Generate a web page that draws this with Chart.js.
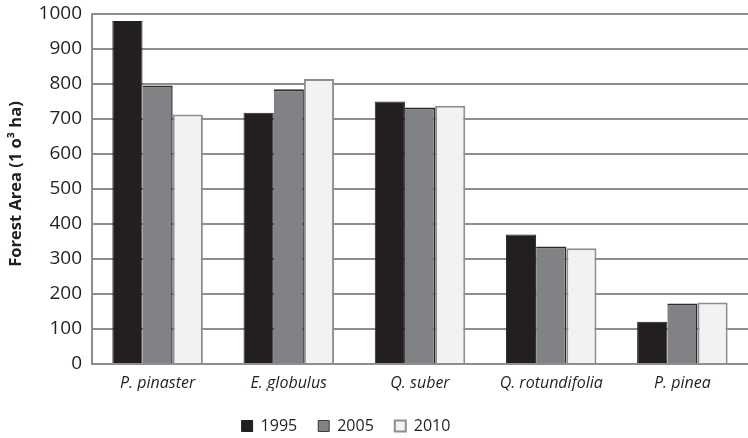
<!DOCTYPE html>
<html>
<head>
<meta charset="utf-8">
<script src="https://cdn.jsdelivr.net/npm/chart.js@4.4.0/dist/chart.umd.min.js"></script>
<style>
  html, body { margin: 0; padding: 0; background: #fff; }
  #wrap { width: 748px; height: 438px; position: relative; }
</style>
</head>
<body>
<div id="wrap"><canvas id="chart"></canvas></div>
<script>
// species on the x axis
const species = ["P. pinaster", "E. globulus", "Q. suber", "Q. rotundifolia", "P. pinea"];
// forest area per year, 10^3 ha
const area1995 = [980, 718, 750, 370, 121];
const area2005 = [796, 785, 733, 336, 173];
const area2010 = [713, 814, 738, 331, 176];
const yTicks = [0, 100, 200, 300, 400, 500, 600, 700, 800, 900, 1000];
const yTitle = 'Forest Area (1 o\u00b3 ha)';

const font = "'Open Sans', sans-serif";

// nudge the legend left and down, it is not centred on the canvas in the original
const legendShift = {
    id: 'legendShift',
    afterLayout: function (chart) {
        chart.legend.right -= 56;
        chart.legend.top += 6;
        chart.legend.bottom += 6;
    }
};

// y axis title, drawn by hand so it sits where the original has it
const yTitlePlugin = {
    id: 'yTitlePlugin',
    afterDraw: function (chart) {
        const ctx = chart.ctx;
        const area = chart.chartArea;
        ctx.save();
        ctx.translate(16, (area.top + area.bottom) / 2 - 5);
        ctx.rotate(-Math.PI / 2);
        ctx.font = "bold 16.5px " + font;
        ctx.fillStyle = '#231f20';
        ctx.textAlign = 'center';
        ctx.textBaseline = 'middle';
        ctx.fillText(yTitle, 0, 0);
        ctx.restore();
    }
};

theChart = new Chart(document.getElementById("chart"), {
    type: 'bar',
    data: {
        labels: species,
        datasets: [
            { label: "1995", data: area1995, backgroundColor: "#231f20", borderColor: "#231f20", borderWidth: 1 },
            { label: "2005", data: area2005, backgroundColor: "#808285", borderColor: "#2b2b2b", borderWidth: { top: 2, right: 1.5, left: 0, bottom: 0 } },
            { label: "2010", data: area2010, backgroundColor: "#f1f2f2", borderColor: "#8e8e90", borderWidth: 2 }
        ]
    },
    options: {
        responsive: true,
        maintainAspectRatio: false,
        animation: false,
        layout: { padding: { top: 14, right: 0, left: 0, bottom: 0 } },
        datasets: { bar: { barPercentage: 1, categoryPercentage: 0.69 } },
        plugins: {
            legend: {
                position: 'bottom',
                labels: {
                    font: { family: font, size: 16 },
                    color: '#231f20',
                    boxWidth: 11, boxHeight: 11,
                    padding: 21
                }
            },
            tooltip: { enabled: false }
        },
        scales: {
            x: {
                grid: { display: false, drawTicks: false },
                border: { display: true, color: '#8e8e8e', width: 2 },
                ticks: { font: { family: font, size: 16, style: 'italic' }, color: '#231f20', padding: 10 },
                afterFit: function (s) { s.height = 27; }
            },
            y: {
                min: 0, max: 1000,
                afterBuildTicks: function (s) { s.ticks = yTicks.map(v => ({ value: v })); },
                grid: { color: '#8e8e8e', lineWidth: 2, drawTicks: false },
                border: { display: true, color: '#8e8e8e', width: 2 },
                ticks: {
                    font: { family: font, size: 19 }, color: '#231f20', padding: 10,
                    callback: function (v) { return String(v); }
                },
                afterFit: function (s) {
                    s.width = 92;
                    s.paddingTop = 0;
                    s.paddingBottom = 0;
                }
            }
        }
    },
    plugins: [legendShift, yTitlePlugin]
});
</script>
</body>
</html>
